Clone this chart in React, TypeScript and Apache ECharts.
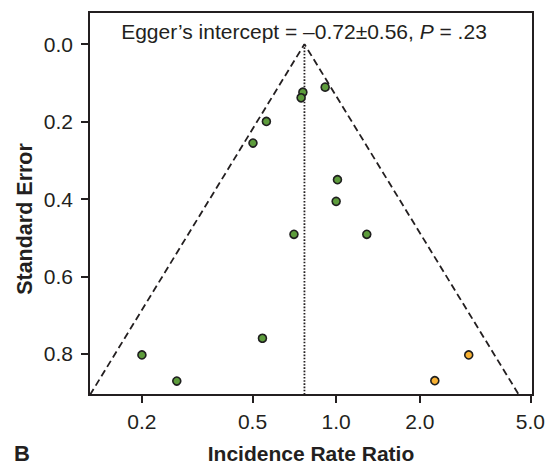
import React, { useEffect, useRef } from 'react';
import * as echarts from 'echarts';

// Observed studies (incidence rate ratio, standard error)
const observedIRR = [0.913, 0.759, 0.748, 0.561, 0.502, 1.011, 1.0, 0.705, 1.289, 0.2, 0.267, 0.543];
const observedSE = [0.111, 0.124, 0.1385, 0.1995, 0.2555, 0.35, 0.406, 0.491, 0.491, 0.8026, 0.87, 0.7595];
// Imputed (trim-and-fill) studies
const imputedIRR = [3.0, 2.265];
const imputedSE = [0.8026, 0.869];
// Pooled estimate and funnel limits
const pooledIRR = 0.769;
const funnelBottomSE = 0.906;
const funnelLeftIRR = 0.13;
const funnelRightIRR = 4.55;
// Axes
const xTickLabels = [0.2, 0.5, 1.0, 2.0, 5.0];
const yTickLabels = [0.0, 0.2, 0.4, 0.6, 0.8];
const xRange = [0.129, 5.11];
const yRange = [-0.083, 0.906];

const titleText = 'Egger\u2019s intercept = \u20130.72\u00b10.56, {i|P} = .23';

const FONT = '"Liberation Sans", Arial, Helvetica, sans-serif';
const INK = '#231f20';

const lg = (v: number) => Math.log10(v);

export default function App() {
  const ref = useRef<HTMLDivElement>(null);
  useEffect(() => {
    if (!ref.current) return;
    const chart = echarts.init(ref.current, undefined, { renderer: 'svg' });
    const option: any = {
      animation: false,
      backgroundColor: '#ffffff',
      textStyle: { fontFamily: FONT, color: INK },
      grid: {
        left: 89,
        right: 26,
        top: 12,
        bottom: 70,
        show: true,
        borderColor: INK,
        borderWidth: 2,
        backgroundColor: 'transparent',
      },
      xAxis: {
        type: 'value',
        position: 'bottom',
        min: lg(xRange[0]),
        max: lg(xRange[1]),
        splitLine: { show: false },
        axisLine: { show: false, onZero: false },
        axisTick: {
          show: true,
          length: 8,
          lineStyle: { color: INK, width: 2 },
          customValues: xTickLabels.map(lg),
        },
        axisLabel: {
          show: true,
          margin: 16,
          fontSize: 21,
          fontFamily: FONT,
          color: INK,
          customValues: xTickLabels.map(lg),
          formatter: (v: number) => Math.pow(10, v).toFixed(1),
        },
      },
      yAxis: {
        type: 'value',
        position: 'left',
        inverse: true,
        min: yRange[0],
        max: yRange[1],
        splitLine: { show: false },
        axisLine: { show: false, onZero: false },
        axisTick: {
          show: true,
          length: 8,
          lineStyle: { color: INK, width: 2 },
          customValues: yTickLabels,
        },
        axisLabel: {
          show: true,
          margin: 16,
          fontSize: 21,
          fontFamily: FONT,
          color: INK,
          customValues: yTickLabels,
          formatter: (v: number) => v.toFixed(1),
        },
      },
      series: [
        {
          type: 'line',
          data: [
            [lg(funnelLeftIRR), funnelBottomSE],
            [lg(pooledIRR), 0],
            [lg(funnelRightIRR), funnelBottomSE],
          ],
          symbol: 'none',
          clip: true,
          lineStyle: { color: INK, width: 1.8, type: [7, 4] },
          z: 1,
        },
        {
          type: 'line',
          data: [
            [lg(pooledIRR), 0],
            [lg(pooledIRR), funnelBottomSE],
          ],
          symbol: 'none',
          clip: true,
          lineStyle: { color: INK, width: 1.8, type: [1.6, 1.6] },
          z: 1,
        },
        {
          type: 'scatter',
          data: observedIRR.map((v, i) => [lg(v), observedSE[i]]),
          symbol: 'circle',
          symbolSize: 8,
          itemStyle: { color: '#5d9c3c', borderColor: '#1f1f1f', borderWidth: 1.6, opacity: 1 },
          z: 3,
        },
        {
          type: 'scatter',
          data: imputedIRR.map((v, i) => [lg(v), imputedSE[i]]),
          symbol: 'circle',
          symbolSize: 8,
          itemStyle: { color: '#f8b132', borderColor: '#1f1f1f', borderWidth: 1.6, opacity: 1 },
          z: 3,
        },
      ],
      graphic: [
        {
          type: 'text',
          x: 304,
          y: 31,
          style: {
            text: titleText,
            align: 'center',
            verticalAlign: 'middle',
            fontSize: 21,
            fontFamily: FONT,
            fill: INK,
            rich: {
              i: { fontStyle: 'italic', fontSize: 21, fontFamily: FONT, fill: INK },
            },
          },
        },
        {
          type: 'text',
          x: 311,
          y: 453,
          style: {
            text: 'Incidence Rate Ratio',
            align: 'center',
            verticalAlign: 'middle',
            fontSize: 21,
            fontWeight: 'bold',
            fontFamily: FONT,
            fill: INK,
          },
        },
        {
          type: 'text',
          x: 14,
          y: 453,
          style: {
            text: 'B',
            align: 'left',
            verticalAlign: 'middle',
            fontSize: 22,
            fontWeight: 'bold',
            fontFamily: FONT,
            fill: INK,
          },
        },
        {
          type: 'text',
          x: 25,
          y: 219,
          rotation: Math.PI / 2,
          style: {
            text: 'Standard Error',
            align: 'center',
            verticalAlign: 'middle',
            fontSize: 21.5,
            fontWeight: 'bold',
            fontFamily: FONT,
            fill: INK,
          },
        },
      ],
    };
    chart.setOption(option);
    return () => chart.dispose();
  }, []);
  return (
    <div
      ref={ref}
      style={{ position: 'absolute', left: 0, top: 0, width: 559, height: 465 }}
    />
  );
}
